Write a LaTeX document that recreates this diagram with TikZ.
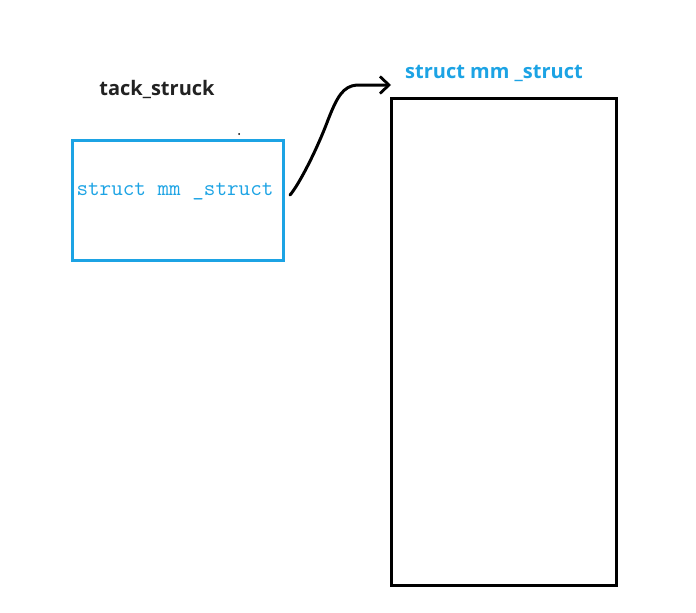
\documentclass[tikz,border=0pt]{standalone}
\usepackage{fontspec}
\setsansfont{Open Sans}
\usepackage{tikz}
\usetikzlibrary{arrows.meta}

\definecolor{mmblue}{RGB}{28,163,228}
\definecolor{labelgray}{RGB}{34,34,34}

\tikzset{
    bluebox/.style={draw=mmblue, line width=3pt, minimum width=211pt, minimum height=120pt, inner sep=0pt},
    blackbox/.style={draw=black, line width=3pt, minimum width=225pt, minimum height=487pt, inner sep=0pt},
    titlelabel/.style={font=\fontsize{20}{24}\sffamily\bfseries, inner sep=0pt}
}

\begin{document}
\begin{tikzpicture}[x=1pt, y=-1pt]
        \useasboundingbox (0, 0) rectangle (696, 613);

        % Left side (task_struct box)
        \node[bluebox] (taskbox) at (177.5, 200) {};
        \node[mmblue, font=\fontsize{22.5}{26}\ttfamily, inner sep=0pt] (mmfield) at (175, 192) {struct mm \_struct};
        \node[titlelabel, labelgray] (tasklabel) at (157, 89) {tack\_struck};
        \fill[black] (239, 134) circle (1pt);

        % Right side (mm_struct box)
        \node[blackbox] (mmbox) at (503.5, 341.5) {};
        \node[titlelabel, mmblue] (mmlabel) at (494, 73) {struct mm \_struct};

        % Hand drawn pointer
        \coordinate (tail) at (290, 195);
        \coordinate (tip) at (391, 85);
        \draw[line width=3pt, line cap=round, line join=round,
              -{Straight Barb[length=9pt, width=17pt, line width=2.8pt]}]
            (tail) .. controls (298, 186) and (316, 152) .. (328, 120)
            .. controls (337, 97) and (343, 86) .. (357, 85) -- (tip);

    \end{tikzpicture}
\end{document}
